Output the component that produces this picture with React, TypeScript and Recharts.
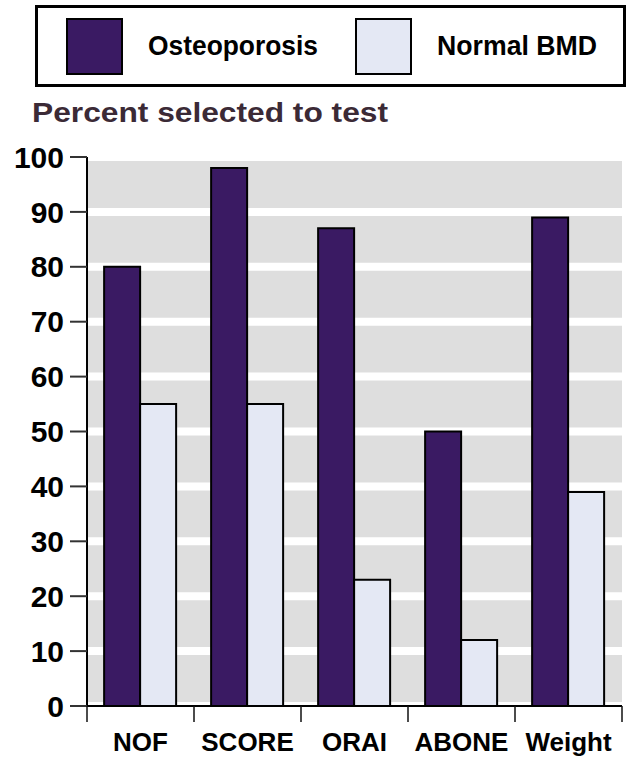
import React from "react";
import { BarChart, Bar, XAxis, YAxis, CartesianGrid, Legend } from "recharts";

const CATEGORIES = ["NOF", "SCORE", "ORAI", "ABONE", "Weight"];
const OSTEOPOROSIS = [80, 98, 87, 50, 89];
const NORMAL_BMD = [55, 55, 23, 12, 39];
const Y_TICKS = [0, 10, 20, 30, 40, 50, 60, 70, 80, 90, 100];
const SERIES_NAMES = ["Osteoporosis", "Normal BMD"];
const TITLE = "Percent selected to test";

const COLOR_OSTEO = "#3a1a63";
const COLOR_NORMAL = "#e4e8f4";
const GRID_FILL = "#dedede";
const FONT = "'Liberation Sans', Arial, Helvetica, sans-serif";

const data = CATEGORIES.map((c, i) => ({
  name: c,
  osteo: OSTEOPOROSIS[i],
  normal: NORMAL_BMD[i],
}));

const X_TICK_SIZE = 16;
const X_TICK_MARGIN = 11;

const XTick = (props: any) => {
  const { x, y, payload, index, visibleTicksCount } = props;
  const half = payload && typeof payload.offset === "number" ? payload.offset : 0;
  const top = y - X_TICK_SIZE - X_TICK_MARGIN;
  const last = index === (visibleTicksCount ?? CATEGORIES.length) - 1;
  return (
    <g>
      <line x1={x - half} x2={x - half} y1={top} y2={top + X_TICK_SIZE} stroke="#111" strokeWidth={1.5} />
      {last && (
        <line x1={x + half} x2={x + half} y1={top} y2={top + X_TICK_SIZE} stroke="#111" strokeWidth={1.5} />
      )}
      <text
        x={x}
        y={y}
        dy="0.71em"
        textAnchor="middle"
        fontFamily={FONT}
        fontWeight="bold"
        fontSize={26}
        fill="#000"
      >
        {payload.value}
      </text>
    </g>
  );
};

const LegendBox = () => (
  <svg width={591} height={82} style={{ display: "block" }}>
    <rect x={1.5} y={1.5} width={588} height={79} fill="#fff" stroke="#000" strokeWidth={3} />
    <rect x={32} y={14} width={55} height={55} fill={COLOR_OSTEO} stroke="#000" strokeWidth={2} />
    <text x={113} y={50} fontFamily={FONT} fontWeight="bold" fontSize={27} fill="#000" textLength={170} lengthAdjust="spacingAndGlyphs">
      {SERIES_NAMES[0]}
    </text>
    <rect x={321} y={14} width={55} height={55} fill={COLOR_NORMAL} stroke="#000" strokeWidth={2} />
    <text x={402} y={50} fontFamily={FONT} fontWeight="bold" fontSize={27} fill="#000" textLength={160} lengthAdjust="spacingAndGlyphs">
      {SERIES_NAMES[1]}
    </text>
  </svg>
);

export default function App() {
  return (
    <div style={{ position: "absolute", left: 0, top: 0, width: 629, height: 758, background: "#fff" }}>
      <svg width={629} height={140} style={{ position: "absolute", left: 0, top: 0 }}>
        <text
          x={32}
          y={122}
          fontFamily={FONT}
          fontWeight="bold"
          fontSize={28}
          fill="#3b2a36"
          textLength={356}
          lengthAdjust="spacingAndGlyphs"
        >
          {TITLE}
        </text>
      </svg>
      <div style={{ position: "absolute", left: 0, top: 0 }}>
        <BarChart
          width={629}
          height={758}
          data={data}
          margin={{ top: 157, right: 7, bottom: 12, left: 7 }}
          barGap={0}
          barCategoryGap="16%"
        >
          <CartesianGrid vertical={false} fill={GRID_FILL} stroke="#fff" strokeWidth={8} />
          <XAxis
            dataKey="name"
            height={40}
            axisLine={{ stroke: "#000", strokeWidth: 2 }}
            tickLine={false}
            tickSize={X_TICK_SIZE}
            tickMargin={X_TICK_MARGIN}
            tick={<XTick />}
            interval={0}
          />
          <YAxis
            width={80}
            domain={[0, 100]}
            ticks={Y_TICKS}
            interval={0}
            tickSize={17}
            tickMargin={6}
            axisLine={{ stroke: "#000", strokeWidth: 2 }}
            tickLine={{ stroke: "#333", strokeWidth: 2 }}
            tick={{ fontFamily: FONT, fontWeight: "bold", fontSize: 30, fill: "#000" }}
          />
          <Legend
            verticalAlign="middle"
            layout="horizontal"
            wrapperStyle={{ top: 5, left: 35, width: 591, height: 82 }}
            content={() => <LegendBox />}
          />
          <Bar dataKey="osteo" name={SERIES_NAMES[0]} fill={COLOR_OSTEO} stroke="#000" strokeWidth={2} isAnimationActive={false} />
          <Bar dataKey="normal" name={SERIES_NAMES[1]} fill={COLOR_NORMAL} stroke="#000" strokeWidth={2} isAnimationActive={false} />
        </BarChart>
      </div>
    </div>
  );
}
